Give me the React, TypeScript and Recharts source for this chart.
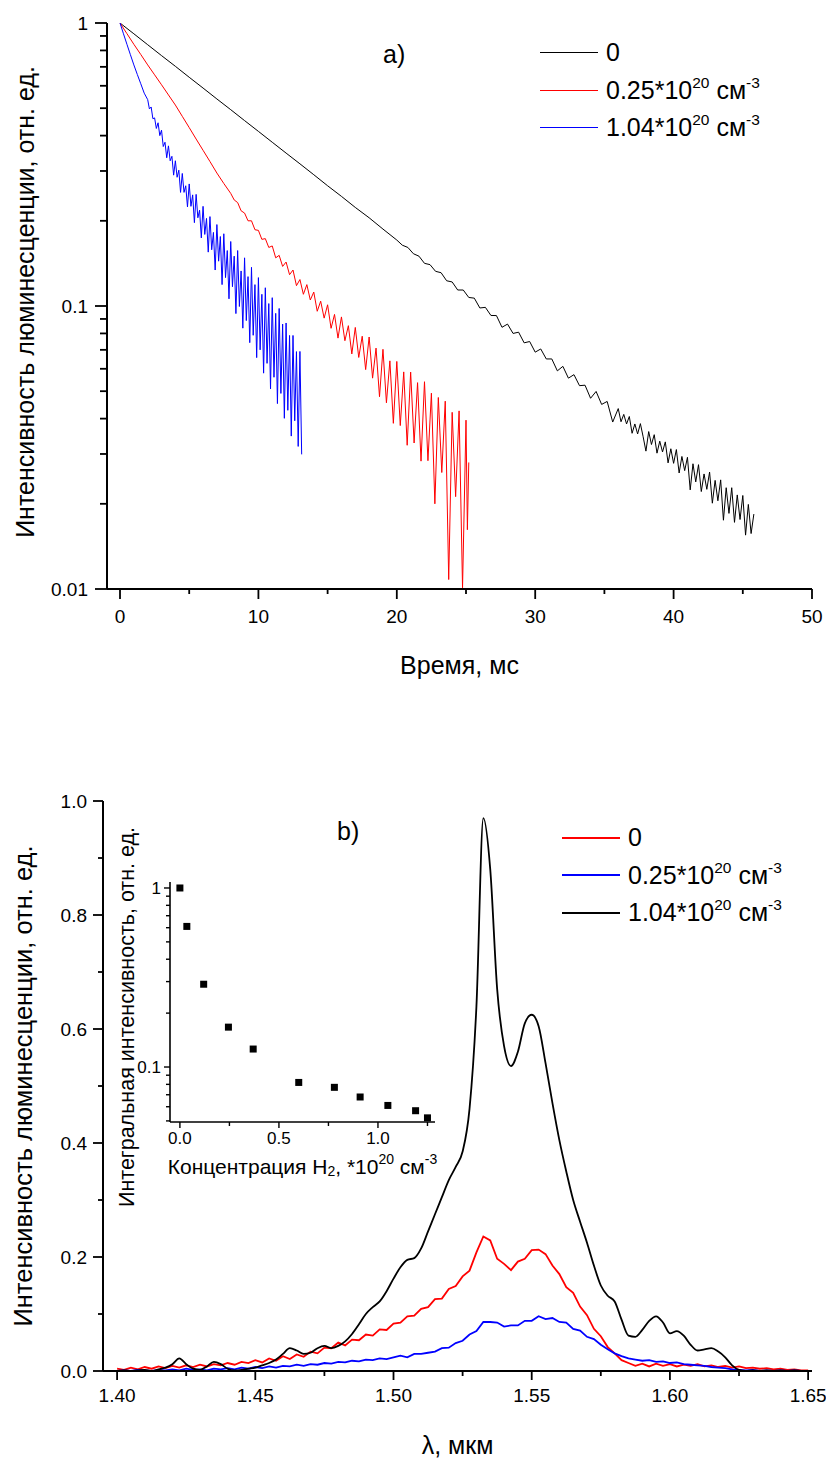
import React from 'react';
import { LineChart, Line, XAxis, YAxis, Legend, ScatterChart, Scatter } from 'recharts';

const FONT = '"Liberation Sans", Arial, sans-serif';

// a) затухание люминесценции, время в мс
const decayTimes0 = [0, 1, 2, 3, 4, 5, 6, 7, 8, 9, 10, 11, 12, 13, 14, 15, 16, 17, 18, 19,
  20, 20.4, 20.8, 21.2, 21.6, 22, 22.4, 22.8, 23.2, 23.6, 24, 24.4, 24.8, 25.2, 25.6, 26, 26.4, 26.8, 27.2, 27.6,
  28, 28.4, 28.8, 29.2, 29.6, 30, 30.4, 30.8, 31.2, 31.6, 32, 32.4, 32.8, 33.2, 33.6, 34, 34.4, 34.8, 35.2, 35.6,
  36, 36.2, 36.4, 36.6, 36.8, 37, 37.2, 37.4, 37.6, 37.8, 38, 38.2, 38.4, 38.6, 38.8, 39, 39.2, 39.4, 39.6, 39.8,
  40, 40.2, 40.4, 40.6, 40.8, 41, 41.2, 41.4, 41.6, 41.8, 42, 42.2, 42.4, 42.6, 42.8, 43, 43.2, 43.4, 43.6, 43.8,
  44, 44.2, 44.4, 44.6, 44.8, 45, 45.2, 45.4, 45.6, 45.8];
const decayValues0 = [1, 0.916, 0.838, 0.767, 0.703, 0.643, 0.589, 0.539, 0.494, 0.452, 0.414, 0.379, 0.347, 0.318, 0.291, 0.266, 0.244, 0.223, 0.205, 0.187,
  0.171, 0.164, 0.161, 0.153, 0.15, 0.1415, 0.14, 0.1326, 0.1311, 0.1228, 0.1216, 0.1139, 0.1139, 0.1072, 0.1066, 0.0984, 0.0989, 0.0926, 0.0925, 0.0841,
  0.0863, 0.08, 0.0808, 0.0741, 0.0749, 0.0687, 0.0705, 0.065, 0.065, 0.059, 0.0612, 0.0556, 0.0572, 0.0523, 0.0525, 0.0472, 0.0499, 0.0449, 0.046, 0.0389,
  0.0434, 0.039, 0.0414, 0.0383, 0.0407, 0.0355, 0.0383, 0.0353, 0.0384, 0.0345, 0.0307, 0.036, 0.0324, 0.0351, 0.0302, 0.0333, 0.0305, 0.0331, 0.0279, 0.0313,
  0.0278, 0.0311, 0.0257, 0.0294, 0.0262, 0.0292, 0.0224, 0.0277, 0.0239, 0.0275, 0.0221, 0.0255, 0.0225, 0.0259, 0.0201, 0.0242, 0.0205, 0.0243, 0.0175, 0.0228,
  0.0185, 0.0228, 0.0172, 0.0215, 0.0176, 0.0214, 0.0155, 0.0199, 0.0157, 0.0184];

const decayTimes025 = [0, 0.5, 1, 1.5, 2, 2.5, 3, 3.5, 4, 4.5, 5, 5.5, 6, 6.5, 7, 7.5,
  8, 8.25, 8.5, 8.75, 9, 9.25, 9.5, 9.75, 10, 10.25, 10.5, 10.75, 11, 11.25, 11.5, 11.75, 12, 12.25, 12.5, 12.75,
  13, 13.25, 13.5, 13.75, 14, 14.25, 14.5, 14.75, 15, 15.25, 15.5, 15.75, 16, 16.25, 16.5, 16.75, 17, 17.25, 17.5, 17.75,
  18, 18.25, 18.5, 18.75, 19, 19.25, 19.5, 19.75, 20, 20.25, 20.5, 20.75, 21, 21.25, 21.5, 21.75, 22, 22.25, 22.5, 22.75,
  23, 23.25, 23.5, 23.75, 24, 24.25, 24.5, 24.75, 25, 25.1, 25.2];
const decayValues025 = [1, 0.917, 0.841, 0.774, 0.711, 0.656, 0.605, 0.557, 0.513, 0.468, 0.427, 0.389, 0.355, 0.324, 0.295, 0.271,
  0.25, 0.237, 0.232, 0.217, 0.213, 0.2, 0.2, 0.186, 0.185, 0.172, 0.173, 0.161, 0.163, 0.148, 0.151, 0.138, 0.143, 0.129, 0.134, 0.118,
  0.124, 0.11, 0.119, 0.105, 0.112, 0.0958, 0.104, 0.0906, 0.101, 0.0834, 0.0934, 0.077, 0.0915, 0.0754, 0.0852, 0.0677, 0.084, 0.0658, 0.0782, 0.0596,
  0.0777, 0.0556, 0.071, 0.0478, 0.0703, 0.0455, 0.064, 0.0385, 0.0637, 0.0378, 0.0585, 0.0322, 0.0584, 0.0328, 0.0536, 0.0283, 0.054, 0.0284, 0.0492, 0.02,
  0.0475, 0.0258, 0.0461, 0.0108, 0.0421, 0.0212, 0.0426, 0.0101, 0.0395, 0.0162, 0.028];

const decayTimes104 = [0, 0.25, 0.5, 0.75, 1, 1.25, 1.5, 1.75,
  2, 2.125, 2.25, 2.375, 2.5, 2.625, 2.75, 2.875, 3, 3.125, 3.25, 3.375, 3.5, 3.625, 3.75, 3.875,
  4, 4.125, 4.25, 4.375, 4.5, 4.625, 4.75, 4.875, 5, 5.125, 5.25, 5.375, 5.5, 5.625, 5.75, 5.875,
  6, 6.125, 6.25, 6.375, 6.5, 6.625, 6.75, 6.875, 7, 7.125, 7.25, 7.375, 7.5, 7.625, 7.75, 7.875,
  8, 8.125, 8.25, 8.375, 8.5, 8.625, 8.75, 8.875, 9, 9.125, 9.25, 9.375, 9.5, 9.625, 9.75, 9.875,
  10, 10.125, 10.25, 10.375, 10.5, 10.625, 10.75, 10.875, 11, 11.125, 11.25, 11.375, 11.5, 11.625, 11.75, 11.875,
  12, 12.125, 12.25, 12.375, 12.5, 12.625, 12.75, 12.875, 13, 13.125];
const decayValues104 = [1, 0.916, 0.841, 0.773, 0.711, 0.658, 0.61, 0.565,
  0.536, 0.497, 0.505, 0.459, 0.462, 0.424, 0.444, 0.4, 0.418, 0.366, 0.379, 0.334, 0.368, 0.326, 0.338, 0.29,
  0.326, 0.285, 0.302, 0.252, 0.294, 0.252, 0.266, 0.224, 0.27, 0.225, 0.247, 0.197, 0.248, 0.205, 0.218, 0.174,
  0.225, 0.179, 0.204, 0.155, 0.207, 0.158, 0.182, 0.134, 0.194, 0.144, 0.176, 0.119, 0.18, 0.126, 0.157, 0.106,
  0.169, 0.117, 0.15, 0.094, 0.157, 0.0996, 0.133, 0.0835, 0.148, 0.0888, 0.127, 0.0742, 0.137, 0.0788, 0.119, 0.0657,
  0.126, 0.07, 0.11, 0.0579, 0.116, 0.0627, 0.102, 0.0509, 0.107, 0.056, 0.0942, 0.0452, 0.098, 0.0491, 0.0863, 0.0401,
  0.0871, 0.0428, 0.0787, 0.0347, 0.0787, 0.0393, 0.069, 0.0319, 0.0691, 0.0299];

// b) спектры, длина волны в мкм
const wavelengths = [1.4, 1.4025, 1.405, 1.4075, 1.41, 1.4125, 1.415, 1.4175, 1.42, 1.4225,
  1.425, 1.4275, 1.43, 1.4325, 1.435, 1.4375, 1.44, 1.4425, 1.445, 1.4475,
  1.45, 1.4525, 1.455, 1.4575, 1.46, 1.4625, 1.465, 1.4675, 1.47, 1.4725,
  1.475, 1.4775, 1.48, 1.4825, 1.485, 1.4875, 1.49, 1.4925, 1.495, 1.4975,
  1.5, 1.5025, 1.505, 1.5075, 1.51, 1.5125, 1.515, 1.5175, 1.52, 1.5225,
  1.525, 1.5275, 1.53, 1.5325, 1.535, 1.5375, 1.54, 1.5425, 1.545, 1.5475,
  1.55, 1.5525, 1.555, 1.5575, 1.56, 1.5625, 1.565, 1.5675, 1.57, 1.5725,
  1.575, 1.5775, 1.58, 1.5825, 1.585, 1.5875, 1.59, 1.5925, 1.595, 1.5975,
  1.6, 1.6025, 1.605, 1.6075, 1.61, 1.6125, 1.615, 1.6175, 1.62, 1.6225,
  1.625, 1.6275, 1.63, 1.6325, 1.635, 1.6375, 1.64, 1.6425, 1.645, 1.6475, 1.65];
const spectrum0 = [0.004, 0.002, 0.006, 0.003, 0.007, 0.004, 0.008, 0.005, 0.009, 0.006,
  0.01, 0.007, 0.011, 0.008, 0.012, 0.01, 0.014, 0.011, 0.016, 0.014,
  0.019, 0.015, 0.022, 0.018, 0.026, 0.021, 0.029, 0.025, 0.034, 0.031,
  0.041, 0.04, 0.05, 0.045, 0.055, 0.054, 0.064, 0.062, 0.073, 0.072,
  0.083, 0.085, 0.096, 0.097, 0.109, 0.112, 0.126, 0.127, 0.144, 0.149,
  0.166, 0.176, 0.208, 0.236, 0.229, 0.197, 0.188, 0.177, 0.192, 0.197,
  0.212, 0.213, 0.205, 0.185, 0.17, 0.147, 0.137, 0.113, 0.098, 0.074,
  0.061, 0.042, 0.031, 0.019, 0.014, 0.009, 0.013, 0.008, 0.013, 0.009,
  0.012, 0.008, 0.011, 0.009, 0.012, 0.008, 0.01, 0.007, 0.009, 0.006,
  0.008, 0.005, 0.006, 0.004, 0.005, 0.003, 0.004, 0.002, 0.003, 0.001, 0.001];
const spectrum025 = [0, 0.001, 0, 0.002, 0.001, 0, 0.002, 0.001, 0.003, 0.001,
  0.004, 0.002, 0.003, 0.001, 0.004, 0.003, 0.005, 0.003, 0.006, 0.004,
  0.007, 0.005, 0.008, 0.006, 0.009, 0.008, 0.011, 0.009, 0.012, 0.011,
  0.014, 0.013, 0.016, 0.015, 0.018, 0.017, 0.02, 0.019, 0.022, 0.021,
  0.024, 0.027, 0.024, 0.03, 0.03, 0.032, 0.034, 0.04, 0.041, 0.049,
  0.053, 0.064, 0.07, 0.086, 0.086, 0.085, 0.078, 0.08, 0.08, 0.088,
  0.088, 0.096, 0.091, 0.093, 0.086, 0.085, 0.074, 0.071, 0.06, 0.056,
  0.046, 0.038, 0.031, 0.026, 0.022, 0.02, 0.018, 0.019, 0.016, 0.017,
  0.014, 0.015, 0.012, 0.011, 0.01, 0.009, 0.007, 0.006, 0.005, 0.003,
  0.002, 0.001, 0.002, 0, 0.001, 0, 0.001, 0, 0.001, 0, 0];
const spectrum104 = [0, 0.001, 0, 0.001, 0.002, 0, 0.003, 0.006, 0.012, 0.022,
  0.012, 0.004, 0.002, 0.008, 0.016, 0.012, 0.004, 0.001, 0.002, 0.004,
  0.006, 0.01, 0.014, 0.02, 0.03, 0.04, 0.036, 0.03, 0.032, 0.04,
  0.044, 0.04, 0.044, 0.052, 0.065, 0.082, 0.1, 0.112, 0.122, 0.14,
  0.162, 0.182, 0.195, 0.198, 0.215, 0.245, 0.275, 0.305, 0.335, 0.358,
  0.385, 0.46, 0.64, 0.97, 0.88, 0.67, 0.57, 0.535, 0.56, 0.61,
  0.625, 0.605, 0.54, 0.47, 0.405, 0.35, 0.3, 0.262, 0.225, 0.185,
  0.15, 0.132, 0.122, 0.09, 0.062, 0.06, 0.072, 0.088, 0.096, 0.085,
  0.066, 0.07, 0.062, 0.046, 0.036, 0.038, 0.04, 0.034, 0.024, 0.01,
  0.002, 0, 0.001, 0, 0.001, 0, 0.001, 0, 0.001, 0, 0];

// вставка: интегральная интенсивность
const h2Concentration = [0, 0.035, 0.12, 0.245, 0.37, 0.6, 0.78, 0.91, 1.05, 1.19, 1.25];
const integralIntensity = [1, 0.61, 0.29, 0.167, 0.126, 0.082, 0.077, 0.068, 0.061, 0.057, 0.052];

const decayTicksX = [0, 5, 10, 15, 20, 25, 30, 35, 40, 45, 50];
const decayLabelsX = [0, 10, 20, 30, 40, 50];
const decayTicksY = [0.01, 0.02, 0.03, 0.04, 0.05, 0.06, 0.07, 0.08, 0.09, 0.1, 0.2, 0.3, 0.4, 0.5, 0.6, 0.7, 0.8, 0.9, 1];
const decayLabelsY = [0.01, 0.1, 1];
const specTicksX = [1.4, 1.425, 1.45, 1.475, 1.5, 1.525, 1.55, 1.575, 1.6, 1.625, 1.65];
const specLabelsX = [1.4, 1.45, 1.5, 1.55, 1.6, 1.65];
const specTicksY = [0, 0.1, 0.2, 0.3, 0.4, 0.5, 0.6, 0.7, 0.8, 0.9, 1];
const specLabelsY = [0, 0.2, 0.4, 0.6, 0.8, 1];
const insetTicksX = [0, 0.25, 0.5, 0.75, 1, 1.25];
const insetLabelsX = [0, 0.5, 1];
const insetTicksY = [0.05, 0.06, 0.07, 0.08, 0.09, 0.1, 0.2, 0.3, 0.4, 0.5, 0.6, 0.7, 0.8, 0.9, 1];
const insetLabelsY = [0.1, 1];

const zip = (xs: number[], ys: number[]) => xs.map((x, i) => ({ x, y: ys[i] }));

type TickOpts = { labels: number[]; fmt: (v: number) => string; major: number; minor: number; size: number; gap: number; width?: number };

const isLabel = (labels: number[], v: number) => labels.some((l) => Math.abs(l - v) < 1e-9);

const leftTick = (o: TickOpts) => (props: any) => {
  const { x, y, payload } = props;
  const major = isLabel(o.labels, payload.value);
  const len = major ? o.major : o.minor;
  return (
    <g>
      <line x1={x} y1={y} x2={x - len} y2={y} stroke="#000" strokeWidth={o.width ?? 1.8} />
      {major && (
        <text x={x - len - o.gap} y={y} dy="0.36em" textAnchor="end" fontSize={o.size} fontFamily={FONT} fill="#000">
          {o.fmt(payload.value)}
        </text>
      )}
    </g>
  );
};

const bottomTick = (o: TickOpts) => (props: any) => {
  const { x, y, payload } = props;
  const major = isLabel(o.labels, payload.value);
  const len = major ? o.major : o.minor;
  return (
    <g>
      <line x1={x} y1={y} x2={x} y2={y + len} stroke="#000" strokeWidth={o.width ?? 1.8} />
      {major && (
        <text x={x} y={y + o.major + o.gap} dy="0.72em" textAnchor="middle" fontSize={o.size} fontFamily={FONT} fill="#000">
          {o.fmt(payload.value)}
        </text>
      )}
    </g>
  );
};

const yTitle = (content: React.ReactNode, x: number, size: number, cyFixed?: number) => (props: any) => {
  const vb = props.viewBox;
  const cy = cyFixed ?? vb.y + vb.height / 2;
  return (
    <text x={x} y={cy} transform={`rotate(-90 ${x} ${cy})`} textAnchor="middle" dominantBaseline="central" fontSize={size} fontFamily={FONT} fill="#000">
      {content}
    </text>
  );
};

const xTitle = (content: React.ReactNode, y: number, size: number) => (props: any) => {
  const vb = props.viewBox;
  return (
    <text x={vb.x + vb.width / 2} y={y} textAnchor="middle" dominantBaseline="central" fontSize={size} fontFamily={FONT} fill="#000">
      {content}
    </text>
  );
};

const Sup = ({ children }: { children: React.ReactNode }) => (
  <span style={{ fontSize: '0.62em', position: 'relative', top: '-0.7em' }}>{children}</span>
);

const concLabel: Record<string, React.ReactNode> = {
  '0': '0',
  '0.25': <>0.25*10<Sup>20</Sup> см<Sup>-3</Sup></>,
  '1.04': <>1.04*10<Sup>20</Sup> см<Sup>-3</Sup></>,
};

const legendContent = (lineWidth: number) => (props: any) => (
  <div style={{ fontFamily: FONT, fontSize: 25, color: '#000', lineHeight: 1 }}>
    {(props.payload || []).map((p: any) => (
      <div key={p.value} style={{ display: 'flex', alignItems: 'center', height: 37.5, whiteSpace: 'nowrap' }}>
        <span style={{ display: 'inline-block', width: 58, borderTop: `${lineWidth}px solid ${p.color}`, marginRight: 8 }} />
        <span>{concLabel[p.value]}</span>
      </div>
    ))}
  </div>
);

const axisLine = { stroke: '#000', strokeWidth: 2 };

const App = () => {
  const d0 = zip(decayTimes0, decayValues0);
  const d025 = zip(decayTimes025, decayValues025);
  const d104 = zip(decayTimes104, decayValues104);
  const spec = wavelengths.map((w, i) => ({ w, s0: spectrum0[i], s025: spectrum025[i], s104: spectrum104[i] }));
  const inset = zip(h2Concentration, integralIntensity);

  return (
    <div style={{ position: 'absolute', left: 0, top: 0, width: 826, height: 1458, background: '#fff', fontFamily: FONT }}>
      <div style={{ position: 'absolute', left: 0, top: 0 }}>
        <LineChart width={826} height={700} margin={{ top: 23, right: 14, left: 47, bottom: 81 }}>
          <XAxis
            type="number"
            dataKey="x"
            domain={[-0.94, 50]}
            allowDataOverflow
            ticks={decayTicksX}
            interval={0}
            tickSize={0}
            tickMargin={0}
            height={30}
            axisLine={axisLine}
            tick={bottomTick({ labels: decayLabelsX, fmt: (v) => String(v), major: 10, minor: 5, size: 19, gap: 10 })}
            label={{ content: xTitle('Время, мс', 665, 25) }}
          />
          <YAxis
            type="number"
            dataKey="y"
            scale="log"
            domain={[0.01, 1]}
            allowDataOverflow
            ticks={decayTicksY}
            interval={0}
            tickSize={0}
            tickMargin={0}
            width={60}
            axisLine={axisLine}
            tick={leftTick({ labels: decayLabelsY, fmt: (v) => String(v), major: 12, minor: 7, size: 19, gap: 7 })}
            label={{ content: yTitle('Интенсивность люминесценции, отн. ед.', 25, 25, 302) }}
          />
          <Line data={d0} dataKey="y" name="0" stroke="#000000" strokeWidth={1} dot={false} type="linear" isAnimationActive={false} />
          <Line data={d025} dataKey="y" name="0.25" stroke="#ff0000" strokeWidth={1} dot={false} type="linear" isAnimationActive={false} />
          <Line data={d104} dataKey="y" name="1.04" stroke="#0000ff" strokeWidth={1} dot={false} type="linear" isAnimationActive={false} />
          <Legend layout="vertical" align="center" verticalAlign="middle" wrapperStyle={{ left: 540, top: 34, width: 260 }} content={legendContent(1.2)} />
        </LineChart>
      </div>
      <div style={{ position: 'absolute', left: 383, top: 40, fontSize: 25, color: '#000' }}>a)</div>

      <div style={{ position: 'absolute', left: 0, top: 760 }}>
        <LineChart width={826} height={698} data={spec} margin={{ top: 41, right: 14, left: 47, bottom: 57 }}>
          <XAxis
            type="number"
            dataKey="w"
            domain={[1.3949, 1.6514]}
            allowDataOverflow
            ticks={specTicksX}
            interval={0}
            tickSize={0}
            tickMargin={0}
            height={30}
            axisLine={axisLine}
            tick={bottomTick({ labels: specLabelsX, fmt: (v) => v.toFixed(2), major: 9, minor: 5, size: 19, gap: 8 })}
            label={{ content: xTitle('λ, мкм', 685, 25) }}
          />
          <YAxis
            type="number"
            domain={[0, 1]}
            allowDataOverflow
            ticks={specTicksY}
            interval={0}
            tickSize={0}
            tickMargin={0}
            width={56}
            axisLine={axisLine}
            tick={leftTick({ labels: specLabelsY, fmt: (v) => v.toFixed(1), major: 10, minor: 5, size: 19, gap: 6 })}
            label={{ content: yTitle('Интенсивность люминесценции, отн. ед.', 23, 25.5) }}
          />
          <Line dataKey="s0" name="0" stroke="#ff0000" strokeWidth={1.8} dot={false} type="linear" isAnimationActive={false} />
          <Line dataKey="s025" name="0.25" stroke="#0000ff" strokeWidth={1.8} dot={false} type="linear" isAnimationActive={false} />
          <Line dataKey="s104" name="1.04" stroke="#000000" strokeWidth={1.8} dot={false} type="monotone" isAnimationActive={false} />
          <Legend layout="vertical" align="center" verticalAlign="middle" wrapperStyle={{ left: 562, top: 59, width: 260 }} content={legendContent(2.2)} />
        </LineChart>
      </div>
      <div style={{ position: 'absolute', left: 337, top: 817, fontSize: 25, color: '#000' }}>b)</div>

      <div style={{ position: 'absolute', left: 100, top: 800 }}>
        <ScatterChart width={360} height={440} margin={{ top: 82, right: 25, left: 10, bottom: 88 }}>
          <XAxis
            type="number"
            dataKey="x"
            domain={[-0.05, 1.288]}
            allowDataOverflow
            ticks={insetTicksX}
            interval={0}
            tickSize={0}
            tickMargin={0}
            height={30}
            axisLine={{ stroke: '#000', strokeWidth: 1.6 }}
            tick={bottomTick({ labels: insetLabelsX, fmt: (v) => v.toFixed(1), major: 6, minor: 4, size: 17, gap: 4, width: 1.4 })}
            label={{ content: xTitle(<>Концентрация H<tspan dy={5} fontSize={14}>2</tspan><tspan dy={-5}>, *10</tspan><tspan dy={-7} fontSize={14}>20</tspan><tspan dy={7}> см</tspan><tspan dy={-7} fontSize={14}>-3</tspan></>, 366, 21) }}
          />
          <YAxis
            type="number"
            dataKey="y"
            scale="log"
            domain={[0.0493, 1.08]}
            allowDataOverflow
            ticks={insetTicksY}
            interval={0}
            tickSize={0}
            tickMargin={0}
            width={60}
            axisLine={{ stroke: '#000', strokeWidth: 1.6 }}
            tick={leftTick({ labels: insetLabelsY, fmt: (v) => (v === 1 ? '1' : '0.1'), major: 6, minor: 4, size: 17, gap: 3, width: 1.4 })}
            label={{ content: yTitle('Интегральная интенсивность, отн. ед.', 27, 21.5, 217) }}
          />
          <Scatter
            data={inset}
            fill="#000"
            isAnimationActive={false}
            shape={(p: any) => <rect x={p.cx - 3.5} y={p.cy - 3.5} width={7} height={7} fill="#000" />}
          />
        </ScatterChart>
      </div>
    </div>
  );
};

export default App;
